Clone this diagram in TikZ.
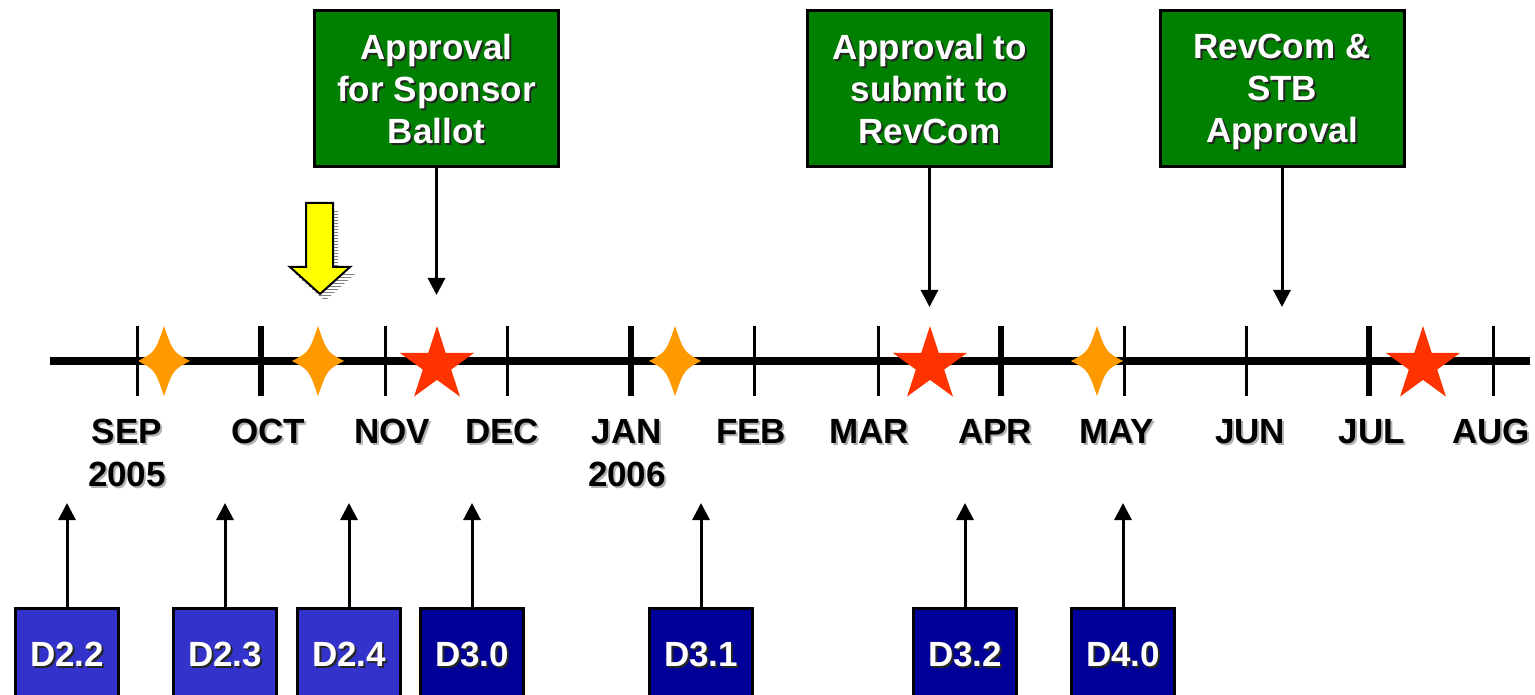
\documentclass[tikz,border=0pt]{standalone}
\usepackage{fontspec}
\setmainfont{Liberation Sans}
\usepackage{tikz}
\usetikzlibrary{positioning,arrows.meta,shapes.geometric,patterns}

\definecolor{gategreen}{HTML}{008000}
\definecolor{draftlight}{HTML}{3333CC}
\definecolor{draftdark}{HTML}{000099}
\definecolor{meetorange}{HTML}{FF9900}
\definecolor{ballotred}{HTML}{FF3300}
\definecolor{nowyellow}{HTML}{FFFF00}

\newcommand{\shtext}[2]{\rlap{\kern2pt\raisebox{-2pt}{\color{#1}#2}}#2}
\newcommand{\wsh}[1]{\shtext{black!85}{#1}}
\newcommand{\ksh}[1]{\shtext{black!30}{#1}}

\begin{document}
\begin{tikzpicture}[
    x=1pt, y=-1pt,
    every node/.style={font=\fontsize{35}{42}\selectfont\bfseries},
    gate/.style={rectangle, draw=black, line width=3pt, fill=gategreen, text=white, minimum width=244pt, minimum height=156pt, align=center, text depth=0pt},
    draft/.style={rectangle, draw=black, line width=3pt, text=white, minimum width=103pt, minimum height=92pt, text depth=0pt},
    month/.style={anchor=base, inner sep=0pt},
    ballot/.style={star, star points=5, star point ratio=2.618, minimum size=78pt, inner sep=0pt, fill=ballotred},
    arrow/.style={-{Triangle[width=17pt,length=17pt]}, line width=3pt}
]
    \useasboundingbox (0,0) rectangle (1535,695);

    % Time line
    \draw[line width=8pt] (50,361) -- (1530,361);
    \foreach \x in {164,318,675,1097}
        \fill[meetorange] (\x,326) .. controls (\x+9,352) .. (\x+26,361) .. controls (\x+9,370) .. (\x,396)
            .. controls (\x-9,370) .. (\x-26,361) .. controls (\x-9,352) .. (\x,326) -- cycle;
    \foreach \x in {137,385,507,754,878,1124,1246,1493}
        \draw[line width=3pt] (\x,326) -- (\x,396);
    \foreach \x in {261,631,1001,1369}
        \draw[line width=6pt] (\x,326) -- (\x,396);
    \node[ballot] (ballot1) at (437,365) {};
    \node[ballot] (ballot2) at (930,365) {};
    \node[ballot] (ballot3) at (1423,365) {};

    % Months
    \foreach \n/\x/\t in {sep/127/SEP, oct/268/OCT, nov/392/NOV, dec/502/DEC, jan/627/JAN, feb/751/FEB,
                          mar/869/MAR, apr/995/APR, may/1117/MAY, jun/1250/JUN, jul/1372/JUL, aug/1491/AUG}
        \node[month] (\n) at (\x,443) {\ksh{\t}};
    \node[month, below=16pt of sep] (y2005) {\ksh{2005}};
    \node[month, below=16pt of jan] (y2006) {\ksh{2006}};

    % Approvals
    \node[gate] (sponsor) at (436.5,88.5) {\wsh{Approval}\\\wsh{for Sponsor}\\\wsh{Ballot}};
    \node[gate] (submit) at (929.5,88.5) {\wsh{Approval to}\\\wsh{submit to}\\\wsh{RevCom}};
    \node[gate] (revcom) at (1282,88.5) {\wsh{RevCom \&}\\\wsh{STB}\\\wsh{Approval}};
    \coordinate (sponsor tip) at (436.5,295);
    \coordinate (submit tip) at (929.5,307);
    \coordinate (revcom tip) at (1282,307);
    \draw[arrow] (sponsor) -- (sponsor tip);
    \draw[arrow] (submit) -- (submit tip);
    \draw[arrow] (revcom) -- (revcom tip);

    % Drafts
    \foreach \n/\x/\c/\t in {d22/67/draftlight/D2.2, d23/225/draftlight/D2.3, d24/349/draftlight/D2.4,
                             d30/472/draftdark/D3.0, d31/701/draftdark/D3.1, d32/965/draftdark/D3.2,
                             d40/1123/draftdark/D4.0}{
        \node[draft, fill=\c] (\n) at (\x,654) {\wsh{\t}};
        \coordinate (\n tip) at (\x,503);
        \draw[arrow] (\n) -- (\n tip);
    }

    % Now pointer
    \fill[pattern=horizontal lines, pattern color=gray, shift={(5,7)}]
        (306,203) -- (333,203) -- (333,267) -- (350,267) -- (320,294) -- (290,267) -- (306,267) -- cycle;
    \draw[line width=2pt, fill=nowyellow, line join=miter]
        (306,203) -- (333,203) -- (333,267) -- (350,267) -- (320,294) -- (290,267) -- (306,267) -- cycle;
\end{tikzpicture}
\end{document}
